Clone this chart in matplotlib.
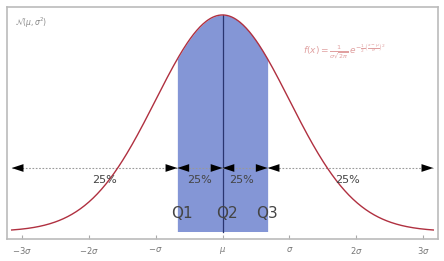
import numpy as np
import matplotlib
matplotlib.use("Agg")
import matplotlib.pyplot as plt

# data
mu, sigma = 0.0, 1.0
quartiles = [-0.6745, 0.0, 0.6745]
quartile_labels = ["Q1", "Q2", "Q3"]
arrow_ends = [-3.15, 3.15]
pct_labels = ["25%", "25%", "25%", "25%"]
pct_x = [-1.77, -0.34, 0.28, 1.87]
q_label_x = [-0.6, 0.07, 0.66]
tick_vals = [-3, -2, -1, 0, 1, 2, 3]
tick_labels = [r"$-3\sigma$", r"$-2\sigma$", r"$-\sigma$", r"$\mu$", r"$\sigma$", r"$2\sigma$", r"$3\sigma$"]

def pdf(x):
    return np.exp(-0.5 * ((x - mu) / sigma) ** 2) / (sigma * np.sqrt(2 * np.pi))

fig = plt.figure(figsize=(4.44, 2.61), dpi=100)
ax = fig.add_axes([7 / 444, 1 - 239 / 261, (438 - 7) / 444, (239 - 7) / 261])

x = np.linspace(-3.15, 3.15, 400)
ax.plot(x, pdf(x), color="#b03040", lw=1.0, zorder=3)

xf = np.linspace(quartiles[0], quartiles[2], 200)
ax.fill_between(xf, 0, pdf(xf), color="#8496d6", lw=0, zorder=1)
ax.plot([quartiles[1], quartiles[1]], [0, pdf(quartiles[1])], color="#2a3570", lw=0.9, zorder=2)

# dotted line with arrowheads
ya = 0.117
pts = [arrow_ends[0]] + quartiles + [arrow_ends[1]]
ax.plot([pts[0], pts[-1]], [ya, ya], color="#999999", lw=0.8, ls=(0, (1.5, 1.5)), zorder=2)
for a, b in zip(pts[:-1], pts[1:]):
    ax.annotate("", xy=(b, ya), xytext=(a, ya),
                arrowprops=dict(arrowstyle="<|-|>,head_length=0.85,head_width=0.28",
                                color="black", lw=0, shrinkA=0, shrinkB=0), zorder=4)

for px, lab in zip(pct_x, pct_labels):
    ax.text(px, 0.094, lab, ha="center", va="center", fontsize=8, color="#444444", zorder=5)
for qx, lab in zip(q_label_x, quartile_labels):
    ax.text(qx, 0.033, lab, ha="center", va="center", fontsize=11, color="#444444", zorder=5)

ax.text(-3.1, 0.385, r"$\mathcal{N}(\mu,\sigma^2)$", fontsize=5.5, color="#888888", ha="left", va="center")
ax.text(1.2, 0.331, r"$f(x)=\frac{1}{\sigma\sqrt{2\pi}}\,e^{-\frac{1}{2}\left(\frac{x-\mu}{\sigma}\right)^2}$",
        fontsize=6.5, color="#e0a0a0", ha="left", va="center")

ax.set_xlim(-3.22, 3.22)
ax.set_ylim(-0.0138, 0.4136)
ax.set_xticks(tick_vals)
ax.set_xticklabels(tick_labels, fontsize=6, color="#777777")
ax.set_yticks([])
ax.tick_params(axis="x", direction="in", length=3, color="#aaaaaa", pad=4)
for s in ax.spines.values():
    s.set_color("#bbbbbb")
    s.set_linewidth(1.2)

fig.savefig("out.png", dpi=100)
